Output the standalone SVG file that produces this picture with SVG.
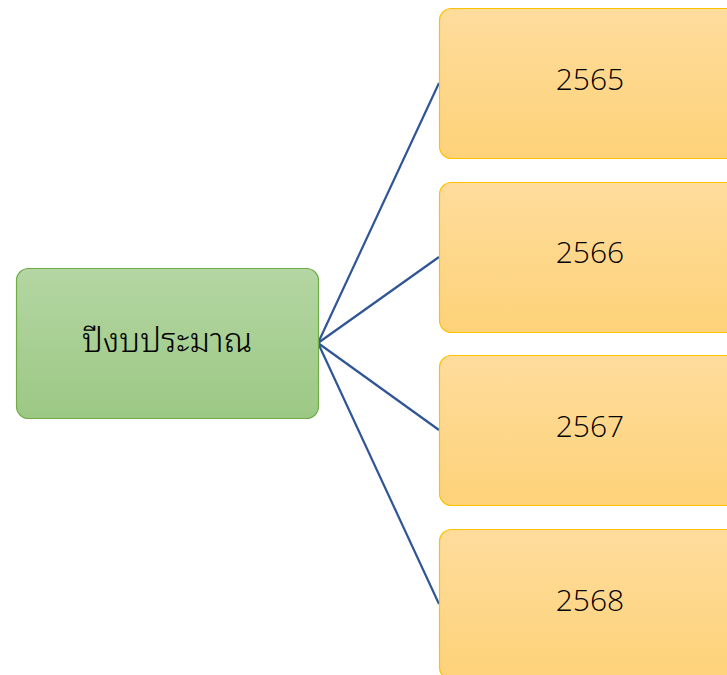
<svg xmlns="http://www.w3.org/2000/svg" width="727" height="675" viewBox="0 0 727 675">
<defs>
<linearGradient id="gG" x1="0" y1="0" x2="0" y2="1"><stop offset="0" stop-color="#B4D6A3"/><stop offset="1" stop-color="#9CC884"/></linearGradient>
<linearGradient id="gO" x1="0" y1="0" x2="0" y2="1"><stop offset="0" stop-color="#FEDC9C"/><stop offset="1" stop-color="#FED279"/></linearGradient>
<style>
.lbl{font-family:"Open Sans","Noto Sans","DejaVu Sans",sans-serif;font-size:30px;font-weight:300;fill:#000;text-anchor:middle;dominant-baseline:central}
.th{font-family:"Noto Sans Thai Looped","Noto Sans Thai","Noto Sans","DejaVu Sans",sans-serif;font-size:33px;font-weight:300}
.yr{fill:url(#gO);stroke:#FFC000;stroke-width:1.2}
.con{stroke:#2F5597;stroke-width:2.2;fill:none}
</style>
</defs>
<g id="connectors">
<line class="con" x1="318" y1="343" x2="439" y2="83"/>
<line class="con" x1="318" y1="343" x2="439" y2="257"/>
<line class="con" x1="318" y1="343" x2="439" y2="430"/>
<line class="con" x1="318" y1="343" x2="439" y2="604"/>
</g>
<g id="root">
<rect x="16.5" y="268.5" width="302" height="150" rx="12" fill="url(#gG)" stroke="#70AD47" stroke-width="1.2"/>
<text class="lbl th" x="167" y="337">ปีงบประมาณ</text>
</g>
<g id="y2565"><rect class="yr" x="439.5" y="8.5" width="300" height="150" rx="12"/><text class="lbl" x="590" y="78">2565</text></g>
<g id="y2566"><rect class="yr" x="439.5" y="182.5" width="300" height="150" rx="12"/><text class="lbl" x="590" y="251">2566</text></g>
<g id="y2567"><rect class="yr" x="439.5" y="355.5" width="300" height="150" rx="12"/><text class="lbl" x="590" y="425">2567</text></g>
<g id="y2568"><rect class="yr" x="439.5" y="529.5" width="300" height="150" rx="12"/><text class="lbl" x="590" y="599">2568</text></g>
</svg>
